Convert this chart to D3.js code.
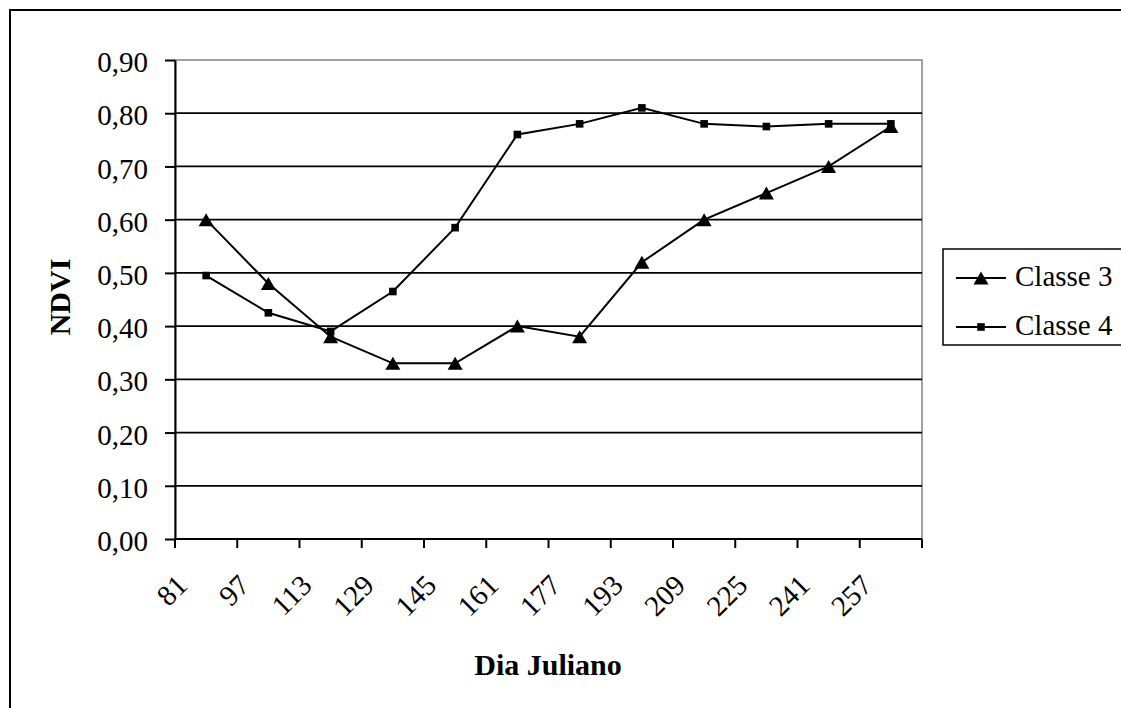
<!DOCTYPE html>
<html>
<head>
<meta charset="utf-8">
<script src="https://cdn.jsdelivr.net/npm/d3@7"></script>
<style>
  html, body { margin: 0; padding: 0; background: #fff; }
  svg { display: block; }
  text { font-family: "Liberation Serif", "Times New Roman", serif; fill: #000; }
</style>
</head>
<body>
<svg id="chart" width="1121" height="708"></svg>
<script>
// ---- data ----
const categories = ["81", "97", "113", "129", "145", "161", "177", "193", "209", "225", "241", "257"];
const classe3 = [0.60, 0.48, 0.38, 0.33, 0.33, 0.40, 0.38, 0.52, 0.60, 0.65, 0.70, 0.775];
const classe4 = [0.495, 0.425, 0.39, 0.465, 0.585, 0.76, 0.78, 0.81, 0.78, 0.775, 0.78, 0.78];
const yTicks = [0, 0.1, 0.2, 0.3, 0.4, 0.5, 0.6, 0.7, 0.8, 0.9];
const seriesNames = ["Classe 3", "Classe 4"];
const xTitle = "Dia Juliano";
const yTitle = "NDVI";

// ---- layout ----
const plot = { left: 175, right: 922, top: 60, bottom: 539 };
const svg = d3.select("#chart");

// outer chart border
svg.append("rect")
  .attr("x", 10).attr("y", 10)
  .attr("width", 1130).attr("height", 720)
  .attr("fill", "#fff").attr("stroke", "#000").attr("stroke-width", 2);

const x = d3.scaleBand().domain(categories).range([plot.left, plot.right]).paddingInner(0).paddingOuter(0);
const xc = d => x(d) + x.bandwidth() / 2;
const y = d3.scaleLinear().domain([0, 0.9]).range([plot.bottom, plot.top]);
const fmt = v => d3.format(".2f")(v).replace(".", ",");

// plot-area border (gray top/right)
svg.append("rect")
  .attr("x", plot.left).attr("y", plot.top)
  .attr("width", plot.right - plot.left).attr("height", plot.bottom - plot.top)
  .attr("fill", "none").attr("stroke", "#808080").attr("stroke-width", 1.5);

// gridlines
svg.append("g").selectAll("line").data(yTicks.filter(v => v > 0 && v < 0.9)).join("line")
  .attr("x1", plot.left).attr("x2", plot.right)
  .attr("y1", d => y(d)).attr("y2", d => y(d))
  .attr("stroke", "#000").attr("stroke-width", 1.8);

// y axis
const yAxis = d3.axisLeft(y).tickValues(yTicks).tickSize(10).tickSizeOuter(0).tickFormat(fmt);
const gy = svg.append("g").attr("transform", `translate(${plot.left},0)`).call(yAxis);
gy.select(".domain").attr("stroke", "#000").attr("stroke-width", 2);
gy.selectAll(".tick line").attr("stroke", "#000").attr("stroke-width", 2);
gy.selectAll(".tick text")
  .attr("x", -27).attr("dy", "0.4em")
  .style("font-family", '"Liberation Serif", serif')
  .style("font-size", "29px").attr("fill", "#000");

// x axis (ticks at category boundaries)
const boundaries = categories.map(c => x(c)).concat([plot.right]);
const gx = svg.append("g");
gx.append("line")
  .attr("x1", plot.left).attr("x2", plot.right)
  .attr("y1", plot.bottom).attr("y2", plot.bottom)
  .attr("stroke", "#000").attr("stroke-width", 2);
gx.selectAll("line.tk").data(boundaries).join("line").attr("class", "tk")
  .attr("x1", d => d).attr("x2", d => d)
  .attr("y1", plot.bottom).attr("y2", plot.bottom + 9)
  .attr("stroke", "#000").attr("stroke-width", 2);
gx.selectAll("text").data(categories).join("text")
  .attr("transform", d => `translate(${x(d) + 14},${plot.bottom + 48}) rotate(-45)`)
  .attr("text-anchor", "end")
  .style("font-size", "29px")
  .text(d => d);

// series lines
const line = d3.line().x((v, i) => xc(categories[i])).y(v => y(v));
svg.append("path").datum(classe3).attr("d", line)
  .attr("fill", "none").attr("stroke", "#000").attr("stroke-width", 2);
svg.append("path").datum(classe4).attr("d", line)
  .attr("fill", "none").attr("stroke", "#000").attr("stroke-width", 2);

// markers
const tri = (cx, cy) => `M${cx},${cy - 6.5}L${cx + 7.5},${cy + 6.5}L${cx - 7.5},${cy + 6.5}Z`;
svg.append("g").selectAll("path").data(classe3).join("path")
  .attr("d", (v, i) => tri(xc(categories[i]), y(v))).attr("fill", "#000");
svg.append("g").selectAll("rect").data(classe4).join("rect")
  .attr("x", (v, i) => xc(categories[i]) - 3.8).attr("y", v => y(v) - 3.8)
  .attr("width", 7.6).attr("height", 7.6).attr("fill", "#000");

// axis titles
svg.append("text")
  .attr("transform", "translate(70,297) rotate(-90)")
  .attr("text-anchor", "middle")
  .style("font-size", "30px").style("font-weight", "bold")
  .text(yTitle);
svg.append("text")
  .attr("x", 548).attr("y", 675)
  .attr("text-anchor", "middle")
  .style("font-size", "30px").style("font-weight", "bold")
  .text(xTitle);

// legend
const lg = svg.append("g");
lg.append("rect").attr("x", 943).attr("y", 249).attr("width", 200).attr("height", 96)
  .attr("fill", "#fff").attr("stroke", "#000").attr("stroke-width", 1.5);
const legY = [278, 327];
seriesNames.forEach((name, i) => {
  lg.append("line").attr("x1", 956).attr("x2", 1006).attr("y1", legY[i]).attr("y2", legY[i])
    .attr("stroke", "#000").attr("stroke-width", 2);
  if (i === 0) lg.append("path").attr("d", tri(981, legY[i])).attr("fill", "#000");
  else lg.append("rect").attr("x", 981 - 3.8).attr("y", legY[i] - 3.8).attr("width", 7.6).attr("height", 7.6).attr("fill", "#000");
  lg.append("text").attr("x", 1015).attr("y", legY[i] + 8).style("font-size", "29px").text(name);
});
</script>
</body>
</html>
